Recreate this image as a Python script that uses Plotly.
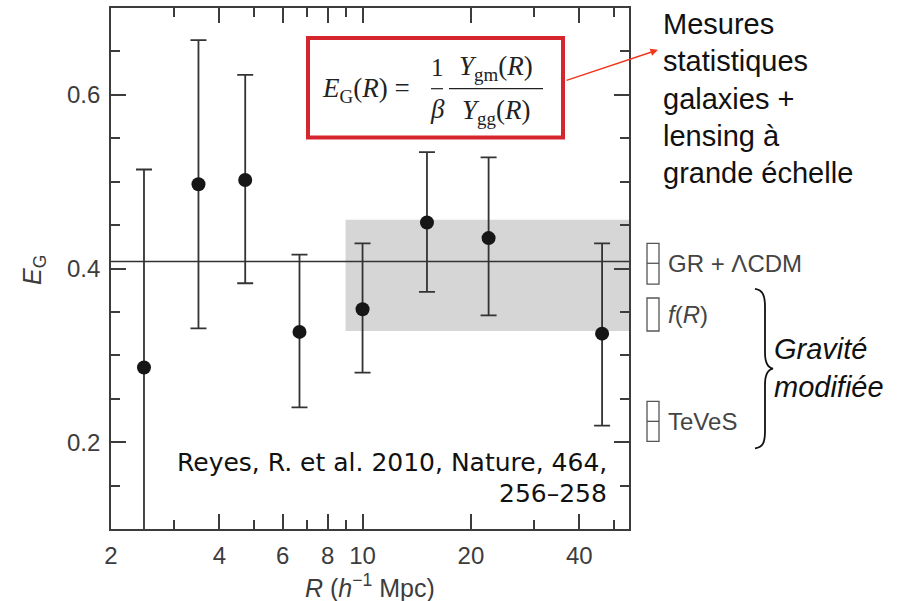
import math
import plotly.graph_objects as go

# ---------------- data ----------------
R = [2.47, 3.50, 4.72, 6.68, 10.0, 15.1, 22.4, 46.3]
EG = [0.286, 0.497, 0.502, 0.327, 0.353, 0.453, 0.435, 0.325]
EG_hi = [0.514, 0.663, 0.623, 0.416, 0.429, 0.534, 0.528, 0.429]
EG_lo = [0.000, 0.331, 0.383, 0.240, 0.280, 0.373, 0.346, 0.219]

GR_LCDM_line = 0.408
band_R = [8.97, 60.0]
band_EG = [0.328, 0.456]

model_names = ["GR + ΛCDM", "<i>f</i>(<i>R</i>)", "TeVeS"]
model_lo = [0.382, 0.328, 0.201]
model_hi = [0.429, 0.366, 0.247]
model_mid = [0.406, None, 0.224]

x_ticks = [2, 4, 6, 8, 10, 20, 40]
x_minor = [3, 5, 7, 9, 30, 50]
y_ticks = [0.2, 0.4, 0.6]
y_minor = [0.15, 0.25, 0.3, 0.35, 0.45, 0.5, 0.55, 0.65]
x_range = [2, 55]
y_range = [0.1, 0.7]

note_lines = ["Mesures", "statistiques", "galaxies +", "lensing à", "grande échelle"]
brace_lines = ["Gravité", "modifiée"]
cite_lines = ["Reyes, R. et al. 2010, Nature, 464,", "256–258"]

# ---------------- layout helpers ----------------
W, H = 906, 601
L, T, Rr, B = 111, 6, 629, 529


def px(x):
    return (x - L) / (Rr - L)


def py(y):
    return (B - y) / (B - T)


AX = "#3c3c3c"

fig = go.Figure()
fig.add_trace(go.Scatter(
    x=R, y=EG, mode="markers",
    marker=dict(size=14, color="#161616"),
    error_y=dict(type="data", symmetric=False,
                 array=[h - v for h, v in zip(EG_hi, EG)],
                 arrayminus=[v - l for v, l in zip(EG, EG_lo)],
                 color="#333333", thickness=1.8, width=8),
    showlegend=False, cliponaxis=True,
))

shapes = []
# grey band (combined measurement)
shapes.append(dict(type="rect", xref="x", yref="y", x0=band_R[0], x1=band_R[1],
                   y0=band_EG[0], y1=band_EG[1], fillcolor="#d6d6d6",
                   line=dict(width=0), layer="below"))
# GR + LCDM prediction line
shapes.append(dict(type="line", xref="x", yref="y", x0=x_range[0], x1=x_range[1],
                   y0=GR_LCDM_line, y1=GR_LCDM_line,
                   line=dict(color="#333333", width=1.6), layer="below"))

# model prediction boxes on the right
for lo, hi, mid in zip(model_lo, model_hi, model_mid):
    shapes.append(dict(type="rect", xref="paper", yref="y", x0=px(647), x1=px(659),
                       y0=lo, y1=hi, line=dict(color="#555555", width=1.3)))
    if mid is not None:
        shapes.append(dict(type="line", xref="paper", yref="y", x0=px(647), x1=px(659),
                           y0=mid, y1=mid, line=dict(color="#555555", width=1.3)))

# formula box
shapes.append(dict(type="rect", xref="paper", yref="paper", x0=px(308), x1=px(563),
                   y0=py(136), y1=py(36), fillcolor="white",
                   line=dict(color="#d5262d", width=4)))
# fraction bars
shapes.append(dict(type="line", xref="paper", yref="paper", x0=px(431), x1=px(443),
                   y0=py(87), y1=py(87), line=dict(color="#222", width=1.2)))
shapes.append(dict(type="line", xref="paper", yref="paper", x0=px(449), x1=px(543),
                   y0=py(87), y1=py(87), line=dict(color="#222", width=1.2)))

# curly brace
pts = [(755, 288), (763, 289), (765, 295), (765, 306), (765, 352), (765, 362), (768, 367),
       (773, 368), (768, 369), (765, 374), (765, 384), (765, 431), (765, 442), (763, 447),
       (755, 448)]
P = [(px(a), py(b)) for a, b in pts]
path = (f"M {P[0][0]},{P[0][1]} C {P[1][0]},{P[1][1]} {P[2][0]},{P[2][1]} {P[3][0]},{P[3][1]} "
        f"L {P[4][0]},{P[4][1]} C {P[5][0]},{P[5][1]} {P[6][0]},{P[6][1]} {P[7][0]},{P[7][1]} "
        f"C {P[8][0]},{P[8][1]} {P[9][0]},{P[9][1]} {P[10][0]},{P[10][1]} "
        f"L {P[11][0]},{P[11][1]} C {P[12][0]},{P[12][1]} {P[13][0]},{P[13][1]} {P[14][0]},{P[14][1]}")
shapes.append(dict(type="path", xref="paper", yref="paper", path=path,
                   line=dict(color="#111", width=1.8)))

ann = []
SERIF = "Liberation Serif"
SANS = "Liberation Sans"
fcol = "#222"
# formula
ann.append(dict(x=px(320), y=py(88), xref="paper", yref="paper", xanchor="left", yanchor="middle",
                text="<i>E</i><sub>G</sub>(<i>R</i>) =", showarrow=False,
                font=dict(family=SERIF, size=27, color=fcol)))
ann.append(dict(x=px(437), y=py(66), xref="paper", yref="paper", xanchor="center", yanchor="middle",
                text="1", showarrow=False, font=dict(family=SERIF, size=25, color=fcol)))
ann.append(dict(x=px(437), y=py(107), xref="paper", yref="paper", xanchor="center", yanchor="middle",
                text="<i>β</i>", showarrow=False, font=dict(family=SERIF, size=27, color=fcol)))
ann.append(dict(x=px(496), y=py(66), xref="paper", yref="paper", xanchor="center", yanchor="middle",
                text="<i>Υ</i><sub>gm</sub>(<i>R</i>)", showarrow=False,
                font=dict(family=SERIF, size=27, color=fcol)))
ann.append(dict(x=px(496), y=py(110), xref="paper", yref="paper", xanchor="center", yanchor="middle",
                text="<i>Υ</i><sub>gg</sub>(<i>R</i>)", showarrow=False,
                font=dict(family=SERIF, size=27, color=fcol)))
# arrow
ann.append(dict(x=px(658), y=py(48), xref="paper", yref="paper", text="", showarrow=True,
                ax=-93, ay=31, arrowhead=2, arrowsize=1, arrowwidth=1.5, arrowcolor="#f2361a"))
# note text
for i, t in enumerate(note_lines):
    ann.append(dict(x=px(661), y=py(40 + 37.5 * i), xref="paper", yref="paper",
                    xanchor="left", yanchor="bottom", text=t, showarrow=False,
                    font=dict(family=SANS, size=29, color="#111")))
# model labels
for t, lo, hi in zip(model_names, model_lo, model_hi):
    ann.append(dict(x=px(666), y=(lo + hi) / 2, xref="paper", yref="y", xanchor="left",
                    yanchor="middle", text=t, showarrow=False,
                    font=dict(family=SANS, size=24, color="#444")))
# brace text
for i, t in enumerate(brace_lines):
    ann.append(dict(x=px(772), y=py(348 + 38 * i), xref="paper", yref="paper",
                    xanchor="left", yanchor="middle", text=f"<i>{t}</i>", showarrow=False,
                    font=dict(family=SANS, size=29, color="#111")))
# citation
for i, t in enumerate(cite_lines):
    ann.append(dict(x=px(609), y=py(462 + 31 * i), xref="paper", yref="paper",
                    xanchor="right", yanchor="middle", text=t, showarrow=False,
                    font=dict(family="DejaVu Sans", size=25, color="#111")))
# axis titles
ann.append(dict(x=px(34), y=py(269), xref="paper", yref="paper", xanchor="center",
                yanchor="middle", textangle=-90, text="<i>E</i><sub>G</sub>", showarrow=False,
                font=dict(family=SANS, size=25, color=AX)))
ann.append(dict(x=px(370), y=py(586), xref="paper", yref="paper", xanchor="center",
                yanchor="middle", text="<i>R</i> (<i>h</i><sup>−1</sup> Mpc)", showarrow=False,
                font=dict(family=SANS, size=25, color=AX)))

fig.update_layout(
    width=W, height=H,
    margin=dict(l=L, r=W - Rr, t=T, b=H - B, pad=0),
    paper_bgcolor="white", plot_bgcolor="white",
    shapes=shapes, annotations=ann,
    xaxis=dict(type="log", range=[math.log10(x_range[0]), math.log10(x_range[1])],
               tickvals=x_ticks, ticktext=[str(v) for v in x_ticks],
               ticks="inside", ticklen=15, tickwidth=1.5, tickcolor=AX,
               minor=dict(tickvals=x_minor, ticks="inside", ticklen=9, tickwidth=1.5, tickcolor=AX),
               showline=True, linecolor=AX, linewidth=1.6, mirror="ticks",
               showgrid=False, zeroline=False,
               tickfont=dict(family=SANS, size=24, color=AX), ticklabelstandoff=4),
    yaxis=dict(range=y_range, tickvals=y_ticks, ticktext=[f"{v:.1f}" for v in y_ticks],
               ticks="inside", ticklen=15, tickwidth=1.5, tickcolor=AX,
               minor=dict(tickvals=y_minor, ticks="inside", ticklen=9, tickwidth=1.5, tickcolor=AX),
               showline=True, linecolor=AX, linewidth=1.6, mirror="ticks",
               showgrid=False, zeroline=False,
               tickfont=dict(family=SANS, size=24, color=AX), ticklabelstandoff=4),
)

fig.write_html("out.html")
